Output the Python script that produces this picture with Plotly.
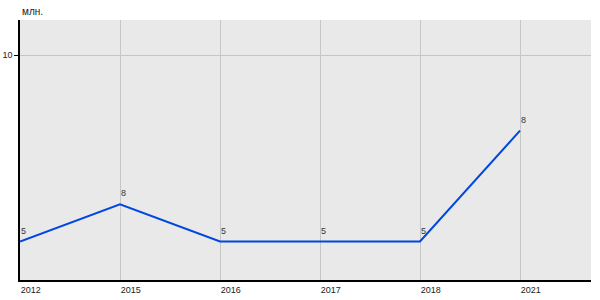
import plotly.graph_objects as go

years = ["2012", "2015", "2016", "2017", "2018", "2021"]
values = [1.71, 3.36, 1.71, 1.71, 1.71, 6.64]
labels = ["5", "8", "5", "5", "5", "8"]
y_tick_vals = [10]
y_tick_text = ["10"]
unit_label = "млн."

xpos = list(range(len(years)))

fig = go.Figure()
fig.add_trace(go.Scatter(
    x=xpos, y=values, mode="lines",
    line=dict(color="#0046e0", width=2),
    hoverinfo="skip", showlegend=False,
))

annotations = [
    dict(x=x, y=v, text=t, xref="x", yref="y", showarrow=False,
         xanchor="left", yanchor="bottom", xshift=-1, yshift=4,
         font=dict(family="Liberation Sans, Arial", size=9, color="#333333"))
    for x, v, t in zip(xpos, values, labels)
]
annotations.append(dict(
    text=unit_label, xref="paper", yref="paper", x=0, y=1,
    xanchor="left", yanchor="bottom", yshift=1, xshift=0, showarrow=False,
    font=dict(family="Liberation Sans, Arial", size=10, color="#222222"),
))

fig.update_layout(
    width=600, height=300,
    margin=dict(l=20, r=9, t=20, b=20),
    paper_bgcolor="white", plot_bgcolor="#e9e9e9",
    font=dict(family="Liberation Sans, Arial", size=9, color="#222222"),
    xaxis=dict(
        range=[0, 5.71], tickvals=xpos, ticktext=years,
        showgrid=True, gridcolor="#c6c6c6", gridwidth=1,
        showline=True, linecolor="black", linewidth=1.5,
        ticks="", ticklabelposition="outside right",
        zeroline=False, tickfont=dict(size=9), automargin=False,
    ),
    yaxis=dict(
        range=[0, 11.56], tickvals=y_tick_vals, ticktext=y_tick_text,
        showgrid=True, gridcolor="#c6c6c6", gridwidth=1,
        showline=True, linecolor="black", linewidth=1.5,
        ticks="outside", ticklen=4, tickcolor="black",
        zeroline=False, tickfont=dict(size=9), automargin=False,
    ),
    annotations=annotations,
)

fig.write_html("out.html")
